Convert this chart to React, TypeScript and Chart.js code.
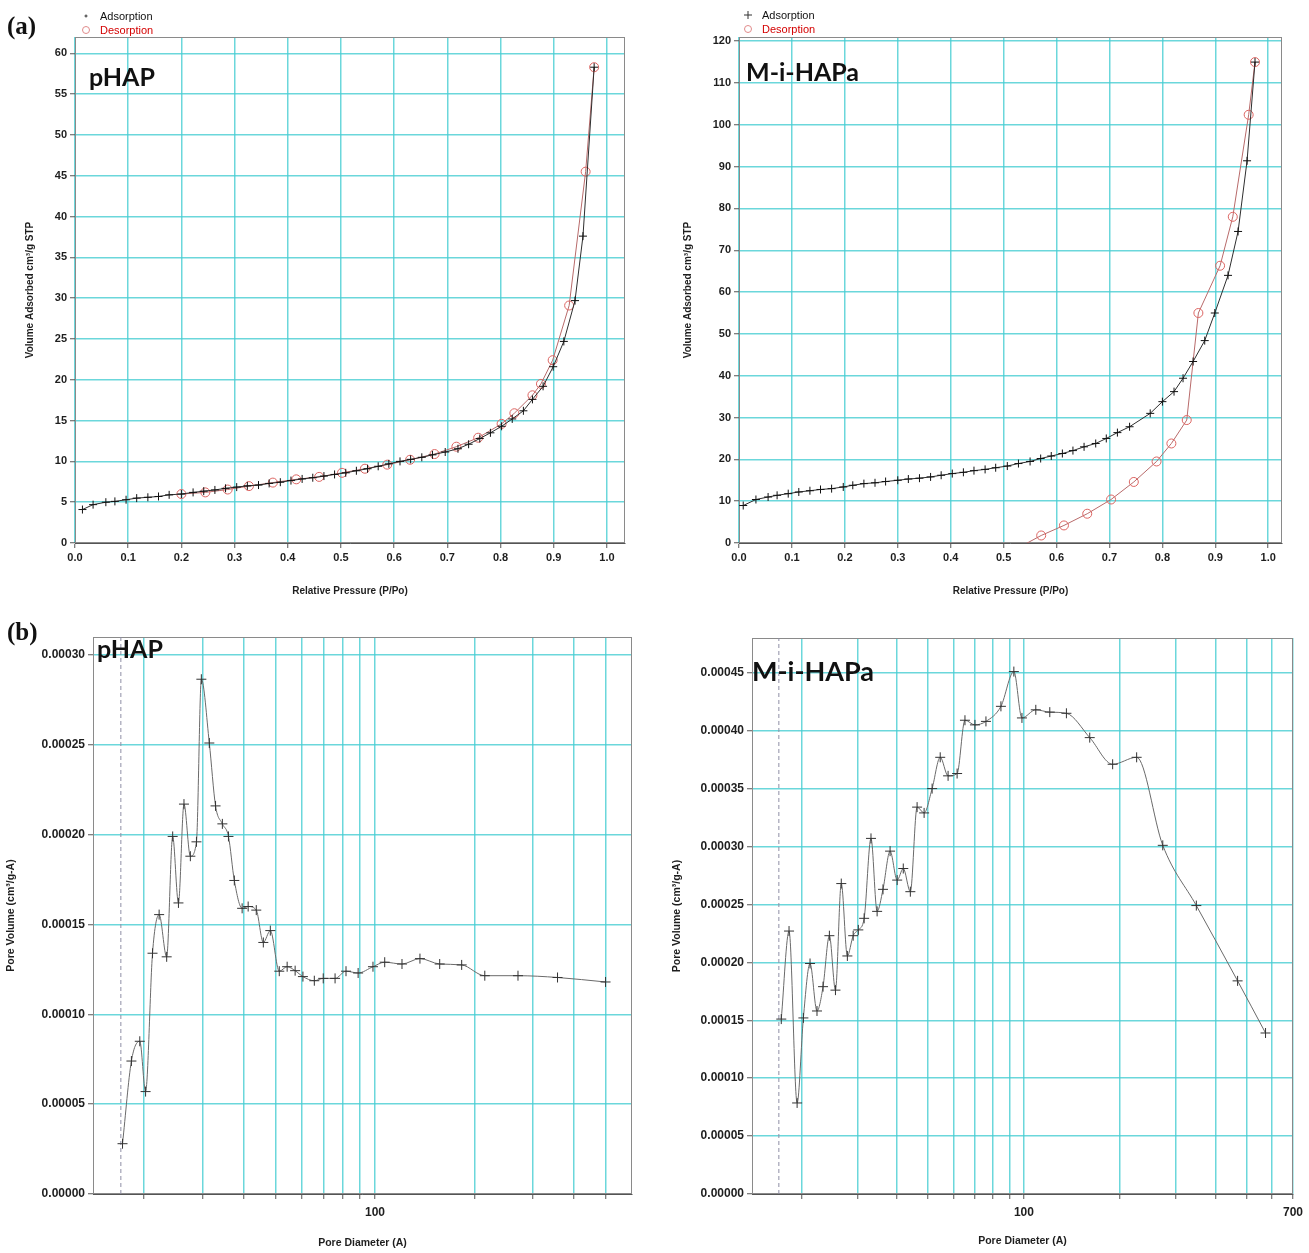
import React, { useEffect, useRef } from "react";
import { Chart, registerables } from "chart.js";

Chart.register(...registerables);

// ---------- (a) pHAP N2 isotherm ----------
const pHAPAdsPressure = [0.014, 0.034, 0.058, 0.075, 0.096, 0.116, 0.137, 0.157, 0.177, 0.2, 0.222, 0.242, 0.263, 0.283, 0.304, 0.324, 0.345, 0.365, 0.386, 0.406, 0.427, 0.447, 0.468, 0.488, 0.509, 0.529, 0.55, 0.57, 0.59, 0.611, 0.631, 0.652, 0.672, 0.696, 0.72, 0.74, 0.761, 0.781, 0.802, 0.822, 0.843, 0.86, 0.88, 0.899, 0.919, 0.94, 0.955, 0.976];
const pHAPAdsVolume = [4.1, 4.7, 5.0, 5.1, 5.3, 5.5, 5.6, 5.7, 5.9, 6.0, 6.2, 6.35, 6.5, 6.7, 6.85, 7.0, 7.1, 7.3, 7.45, 7.65, 7.85, 8.0, 8.2, 8.4, 8.6, 8.85, 9.1, 9.4, 9.7, 10.0, 10.25, 10.5, 10.8, 11.15, 11.55, 12.1, 12.8, 13.5, 14.3, 15.2, 16.2, 17.6, 19.2, 21.6, 24.7, 29.7, 37.6, 58.3];
const pHAPDesPressure = [0.976, 0.96, 0.929, 0.898, 0.876, 0.86, 0.826, 0.802, 0.758, 0.717, 0.676, 0.63, 0.587, 0.545, 0.502, 0.459, 0.416, 0.372, 0.327, 0.287, 0.245, 0.2];
const pHAPDesVolume = [58.3, 45.5, 29.1, 22.4, 19.5, 18.1, 15.9, 14.6, 12.9, 11.8, 10.9, 10.2, 9.6, 9.1, 8.6, 8.1, 7.8, 7.4, 6.97, 6.55, 6.2, 6.0];

// ---------- (a) M-i-HAPa N2 isotherm ----------
const miAdsPressure = [0.008, 0.032, 0.055, 0.072, 0.093, 0.113, 0.134, 0.154, 0.175, 0.197, 0.215, 0.236, 0.257, 0.277, 0.3, 0.32, 0.341, 0.362, 0.382, 0.403, 0.424, 0.444, 0.465, 0.485, 0.507, 0.528, 0.55, 0.57, 0.59, 0.611, 0.631, 0.652, 0.674, 0.694, 0.715, 0.738, 0.777, 0.8, 0.822, 0.839, 0.858, 0.88, 0.899, 0.924, 0.943, 0.96, 0.975];
const miAdsVolume = [8.96, 10.4, 11.0, 11.4, 11.8, 12.2, 12.5, 12.8, 13.0, 13.4, 13.8, 14.2, 14.4, 14.7, 15.0, 15.3, 15.5, 15.8, 16.2, 16.6, 16.9, 17.3, 17.6, 18.0, 18.4, 19.0, 19.5, 20.2, 20.8, 21.4, 22.1, 23.0, 23.8, 25.0, 26.4, 27.8, 31.0, 33.8, 36.2, 39.4, 43.4, 48.4, 55.0, 64.0, 74.5, 91.4, 115];
const miDesPressure = [0.975, 0.963, 0.933, 0.909, 0.868, 0.846, 0.817, 0.789, 0.746, 0.703, 0.658, 0.614, 0.571, 0.527];
const miDesVolume = [115, 102.4, 78.0, 66.3, 55.0, 29.4, 23.8, 19.5, 14.6, 10.4, 7.0, 4.2, 1.8, -1.2];

// ---------- (b) BJH pore size distributions ----------
const pHAPDiameter = [17.2, 18.3, 19.4, 20.2, 21.2, 22.2, 23.4, 24.4, 25.4, 26.4, 27.6, 28.8, 29.8, 31.5, 32.9, 34.5, 36.0, 37.5, 39.6, 41.3, 43.7, 45.9, 48.2, 51.3, 54.2, 57.3, 60.5, 65.5, 69.7, 75.7, 81.7, 88.9, 98.6, 107, 120.7, 136.8, 157, 183, 215, 271, 357, 499];
const pHAPPoreVolume = [0.000028, 0.000074, 0.000085, 0.000057, 0.000134, 0.0001555, 0.000132, 0.000199, 0.000162, 0.000217, 0.000188, 0.000196, 0.0002865, 0.000251, 0.000216, 0.000206, 0.000199, 0.0001745, 0.000159, 0.00016, 0.000158, 0.00014, 0.0001466, 0.000124, 0.0001265, 0.0001243, 0.000121, 0.0001187, 0.00012, 0.00012, 0.000124, 0.000123, 0.0001265, 0.000129, 0.000128, 0.000131, 0.000128, 0.0001275, 0.0001215, 0.0001215, 0.0001205, 0.000118];
const miDiameter = [17.3, 18.3, 19.4, 20.3, 21.3, 22.4, 23.4, 24.5, 25.6, 26.7, 27.9, 29.1, 30.2, 31.5, 33.1, 34.6, 36.1, 38.0, 40.0, 41.8, 44.0, 46.2, 48.6, 51.5, 54.6, 57.8, 61.7, 65.3, 70.2, 76.0, 84.7, 93.0, 98.6, 109, 120.6, 136, 161, 190, 226, 273, 348, 469, 574];
const miPoreVolume = [0.000151, 0.000227, 0.0000786, 0.000152, 0.000199, 0.000158, 0.000179, 0.000223, 0.000176, 0.000268, 0.0002055, 0.000223, 0.000228, 0.000238, 0.000307, 0.000244, 0.000263, 0.000296, 0.000271, 0.000281, 0.000261, 0.000334, 0.000329, 0.00035, 0.000377, 0.000361, 0.000363, 0.000409, 0.000405, 0.000408, 0.000421, 0.000451, 0.000411, 0.000418, 0.000416, 0.000415, 0.000394, 0.000371, 0.000377, 0.000301, 0.000249, 0.000184, 0.000139];

// axis / grid helpers
const leftDiameterGrid = [20, 30, 40, 50, 60, 70, 80, 90, 100, 200, 300, 400, 500];
const rightDiameterGrid = [20, 30, 40, 50, 60, 70, 80, 90, 100, 200, 300, 400, 500, 600, 700];
const leftDiameterLabels = [100];
const rightDiameterLabels = [100, 700];
const cutoffDiameter = 17;

const FONT = '"Liberation Sans", Arial, Helvetica, sans-serif';
const GRID = "rgba(70,205,210,0.8)";
const TEXT = "#1e1e1e";

const framePlugin = {
  id: "frame",
  beforeDatasetsDraw(chart: any) {
    const { ctx, chartArea: a } = chart;
    ctx.save();
    ctx.strokeStyle = "#8a8a8a";
    ctx.lineWidth = 1;
    ctx.strokeRect(a.left + 0.5, a.top + 0.5, a.right - a.left - 1, a.bottom - a.top - 1);
    ctx.restore();
  },
};

function baseOptions(o: any) {
  return {
    responsive: false,
    animation: false,
    events: [],
    layout: { padding: { top: o.padTop, right: o.padRight, left: 0, bottom: 0 } },
    plugins: { legend: { display: false }, tooltip: { enabled: false } },
  };
}

function isothermConfig(o: any) {
  return {
    type: "line",
    data: {
      datasets: [
        {
          label: "Adsorption",
          data: o.adsP.map((p: number, i: number) => ({ x: p, y: o.adsV[i] })),
          borderColor: "#2e2e2e",
          borderWidth: 1,
          pointStyle: "cross",
          pointRadius: 4,
          pointBorderColor: "#111",
          pointBorderWidth: 1,
          tension: 0,
          clip: 0,
        },
        {
          label: "Desorption",
          data: o.desP.map((p: number, i: number) => ({ x: p, y: o.desV[i] })),
          borderColor: "#b86a6a",
          borderWidth: 1,
          pointStyle: "circle",
          pointRadius: (c: any) => (c.raw && c.raw.y < 0 ? 0 : 4.5),
          pointBorderColor: "#dc6461",
          pointBackgroundColor: "rgba(255,255,255,0)",
          pointBorderWidth: 1,
          tension: 0,
          clip: 0,
        },
      ],
    },
    options: {
      ...baseOptions(o),
      scales: {
        x: {
          type: "linear",
          min: 0,
          max: o.xMax,
          afterFit: (s: any) => {
            s.height = o.xAxisHeight;
          },
          ticks: {
            stepSize: 0.1,
            includeBounds: false,
            maxRotation: 0,
            autoSkip: false,
            padding: 3,
            color: TEXT,
            font: { family: FONT, size: 11, weight: "bold" },
            callback: (v: any) => Number(v).toFixed(1),
          },
          grid: { color: GRID, lineWidth: 1.5, tickLength: 5, tickColor: "#555", tickWidth: 1 },
          border: { color: "#555", width: 1 },
          title: {
            display: true,
            text: "Relative Pressure (P/Po)",
            color: TEXT,
            font: { family: FONT, size: 10, weight: "bold" },
            padding: { top: 0, bottom: o.xTitlePad },
          },
        },
        y: {
          type: "linear",
          min: 0,
          max: o.yMax,
          afterFit: (s: any) => {
            s.width = o.yAxisWidth;
          },
          ticks: {
            stepSize: o.yStep,
            includeBounds: false,
            autoSkip: false,
            padding: 3,
            color: TEXT,
            font: { family: FONT, size: 11, weight: "bold" },
            callback: (v: any) => String(Math.round(Number(v))),
          },
          grid: { color: GRID, lineWidth: 1.5, tickLength: 5, tickColor: "#555", tickWidth: 1 },
          border: { color: "#555", width: 1 },
          title: {
            display: true,
            text: "Volume Adsorbed cm³/g STP",
            color: TEXT,
            font: { family: FONT, size: 10, weight: "bold" },
            padding: { top: o.yTitlePad, bottom: 0 },
          },
        },
      },
    },
    plugins: [framePlugin],
  };
}

function psdConfig(o: any) {
  return {
    type: "line",
    data: {
      datasets: [
        {
          label: "Pore Volume",
          data: o.diam.map((d: number, i: number) => ({ x: d, y: o.vol[i] })),
          borderColor: "#6a6a6a",
          borderWidth: 1,
          pointStyle: "cross",
          pointRadius: 5,
          pointBorderColor: "#333",
          pointBorderWidth: 1,
          cubicInterpolationMode: "monotone",
        },
        {
          label: "cutoff",
          data: [
            { x: cutoffDiameter, y: 0 },
            { x: cutoffDiameter, y: o.yMax },
          ],
          borderColor: "#8e8ea6",
          borderWidth: 1,
          borderDash: [4, 3],
          pointRadius: 0,
        },
      ],
    },
    options: {
      ...baseOptions(o),
      scales: {
        x: {
          type: "logarithmic",
          min: o.xMin,
          max: o.xMax,
          afterFit: (s: any) => {
            s.height = o.xAxisHeight;
          },
          afterBuildTicks: (s: any) => {
            s.ticks = o.grid.map((v: number) => ({ value: v }));
          },
          ticks: {
            autoSkip: false,
            maxRotation: 0,
            padding: 6,
            color: TEXT,
            font: { family: FONT, size: 12, weight: "bold" },
            callback: (v: any) => (o.labels.includes(Number(v)) ? String(v) : ""),
          },
          grid: { color: GRID, lineWidth: 1.5, tickLength: 5, tickColor: "#555", tickWidth: 1 },
          border: { color: "#555", width: 1 },
          title: {
            display: true,
            text: "Pore Diameter (A)",
            color: TEXT,
            font: { family: FONT, size: 10.5, weight: "bold" },
            padding: { top: 0, bottom: o.xTitlePad },
          },
        },
        y: {
          type: "linear",
          min: 0,
          max: o.yMax,
          afterFit: (s: any) => {
            s.width = o.yAxisWidth;
          },
          ticks: {
            stepSize: 0.00005,
            includeBounds: false,
            autoSkip: false,
            padding: 3,
            color: TEXT,
            font: { family: FONT, size: 12, weight: "bold" },
            callback: (v: any) => Number(v).toFixed(5),
          },
          grid: { color: GRID, lineWidth: 1.5, tickLength: 5, tickColor: "#555", tickWidth: 1 },
          border: { color: "#555", width: 1 },
          title: {
            display: true,
            text: "Pore Volume (cm³/g-A)",
            color: TEXT,
            font: { family: FONT, size: 10.5, weight: "bold" },
            padding: { top: o.yTitlePad, bottom: 0 },
          },
        },
      },
    },
    plugins: [framePlugin],
  };
}

function ChartCanvas(props: { left: number; top: number; width: number; height: number; build: () => any }) {
  const ref = useRef<HTMLCanvasElement>(null);
  useEffect(() => {
    const chart = new Chart(ref.current as HTMLCanvasElement, props.build());
    return () => chart.destroy();
  }, []);
  return (
    <canvas
      ref={ref}
      width={props.width}
      height={props.height}
      style={{ position: "absolute", left: props.left, top: props.top, width: props.width, height: props.height }}
    />
  );
}

function Legend(props: { left: number; top: number; plusSize: number }) {
  const s = props.plusSize;
  return (
    <div style={{ position: "absolute", left: props.left, top: props.top, font: `11px ${FONT}`, lineHeight: "14px", whiteSpace: "nowrap" }}>
      <div style={{ color: "#111", display: "flex", alignItems: "center" }}>
        <svg width={10} height={10} style={{ marginRight: 9 }}>
          <line x1={5 - s} y1={5} x2={5 + s} y2={5} stroke="#333" strokeWidth={1} />
          <line x1={5} y1={5 - s} x2={5} y2={5 + s} stroke="#333" strokeWidth={1} />
        </svg>
        Adsorption
      </div>
      <div style={{ color: "#d40000", display: "flex", alignItems: "center" }}>
        <svg width={10} height={10} style={{ marginRight: 9 }}>
          <circle cx={5} cy={5} r={3.5} fill="none" stroke="#e08a8a" strokeWidth={1} />
        </svg>
        Desorption
      </div>
    </div>
  );
}

const panelLabel: React.CSSProperties = {
  position: "absolute",
  font: 'bold 25px "Liberation Serif", "Times New Roman", serif',
  lineHeight: "25px",
  color: "#111",
};
const sampleLabel = (size: number): React.CSSProperties => ({
  position: "absolute",
  fontFamily: 'Lato, "Open Sans", sans-serif',
  fontWeight: 700,
  fontSize: size,
  lineHeight: `${size}px`,
  color: "#111",
  whiteSpace: "nowrap",
});

export default function App() {
  return (
    <div style={{ position: "absolute", left: 0, top: 0, width: 1309, height: 1253, background: "#fff", overflow: "hidden" }}>
      <ChartCanvas
        left={0}
        top={0}
        width={650}
        height={610}
        build={() =>
          isothermConfig({
            adsP: pHAPAdsPressure,
            adsV: pHAPAdsVolume,
            desP: pHAPDesPressure,
            desV: pHAPDesVolume,
            xMax: 1.034,
            yMax: 62,
            yStep: 5,
            padTop: 37,
            padRight: 25,
            yAxisWidth: 75,
            xAxisHeight: 67,
            yTitlePad: 24,
            xTitlePad: 13,
          })
        }
      />
      <ChartCanvas
        left={655}
        top={0}
        width={654}
        height={610}
        build={() =>
          isothermConfig({
            adsP: miAdsPressure,
            adsV: miAdsVolume,
            desP: miDesPressure,
            desV: miDesVolume,
            xMax: 1.026,
            yMax: 121,
            yStep: 10,
            padTop: 37,
            padRight: 27,
            yAxisWidth: 84,
            xAxisHeight: 67,
            yTitlePad: 27,
            xTitlePad: 13,
          })
        }
      />
      <ChartCanvas
        left={0}
        top={615}
        width={650}
        height={638}
        build={() =>
          psdConfig({
            diam: pHAPDiameter,
            vol: pHAPPoreVolume,
            xMin: 14,
            xMax: 600,
            yMax: 0.00031,
            grid: leftDiameterGrid,
            labels: leftDiameterLabels,
            padTop: 22,
            padRight: 18,
            yAxisWidth: 93,
            xAxisHeight: 59,
            yTitlePad: 5,
            xTitlePad: 4,
          })
        }
      />
      <ChartCanvas
        left={655}
        top={615}
        width={654}
        height={638}
        build={() =>
          psdConfig({
            diam: miDiameter,
            vol: miPoreVolume,
            xMin: 14,
            xMax: 700,
            yMax: 0.00048,
            grid: rightDiameterGrid,
            labels: rightDiameterLabels,
            padTop: 23,
            padRight: 15,
            yAxisWidth: 97,
            xAxisHeight: 59,
            yTitlePad: 16,
            xTitlePad: 6,
          })
        }
      />

      <div style={{ ...panelLabel, left: 7, top: 13 }}>(a)</div>
      <div style={{ ...panelLabel, left: 7, top: 619 }}>(b)</div>

      <Legend left={81} top={9} plusSize={1.5} />
      <Legend left={743} top={8} plusSize={4} />

      <div style={{ ...sampleLabel(25), left: 89, top: 64 }}>pHAP</div>
      <div style={{ ...sampleLabel(25), left: 746, top: 59 }}>M-i-HAPa</div>
      <div style={{ ...sampleLabel(25), left: 97, top: 636 }}>pHAP</div>
      <div style={{ ...sampleLabel(27), left: 752, top: 657 }}>M-i-HAPa</div>
    </div>
  );
}
